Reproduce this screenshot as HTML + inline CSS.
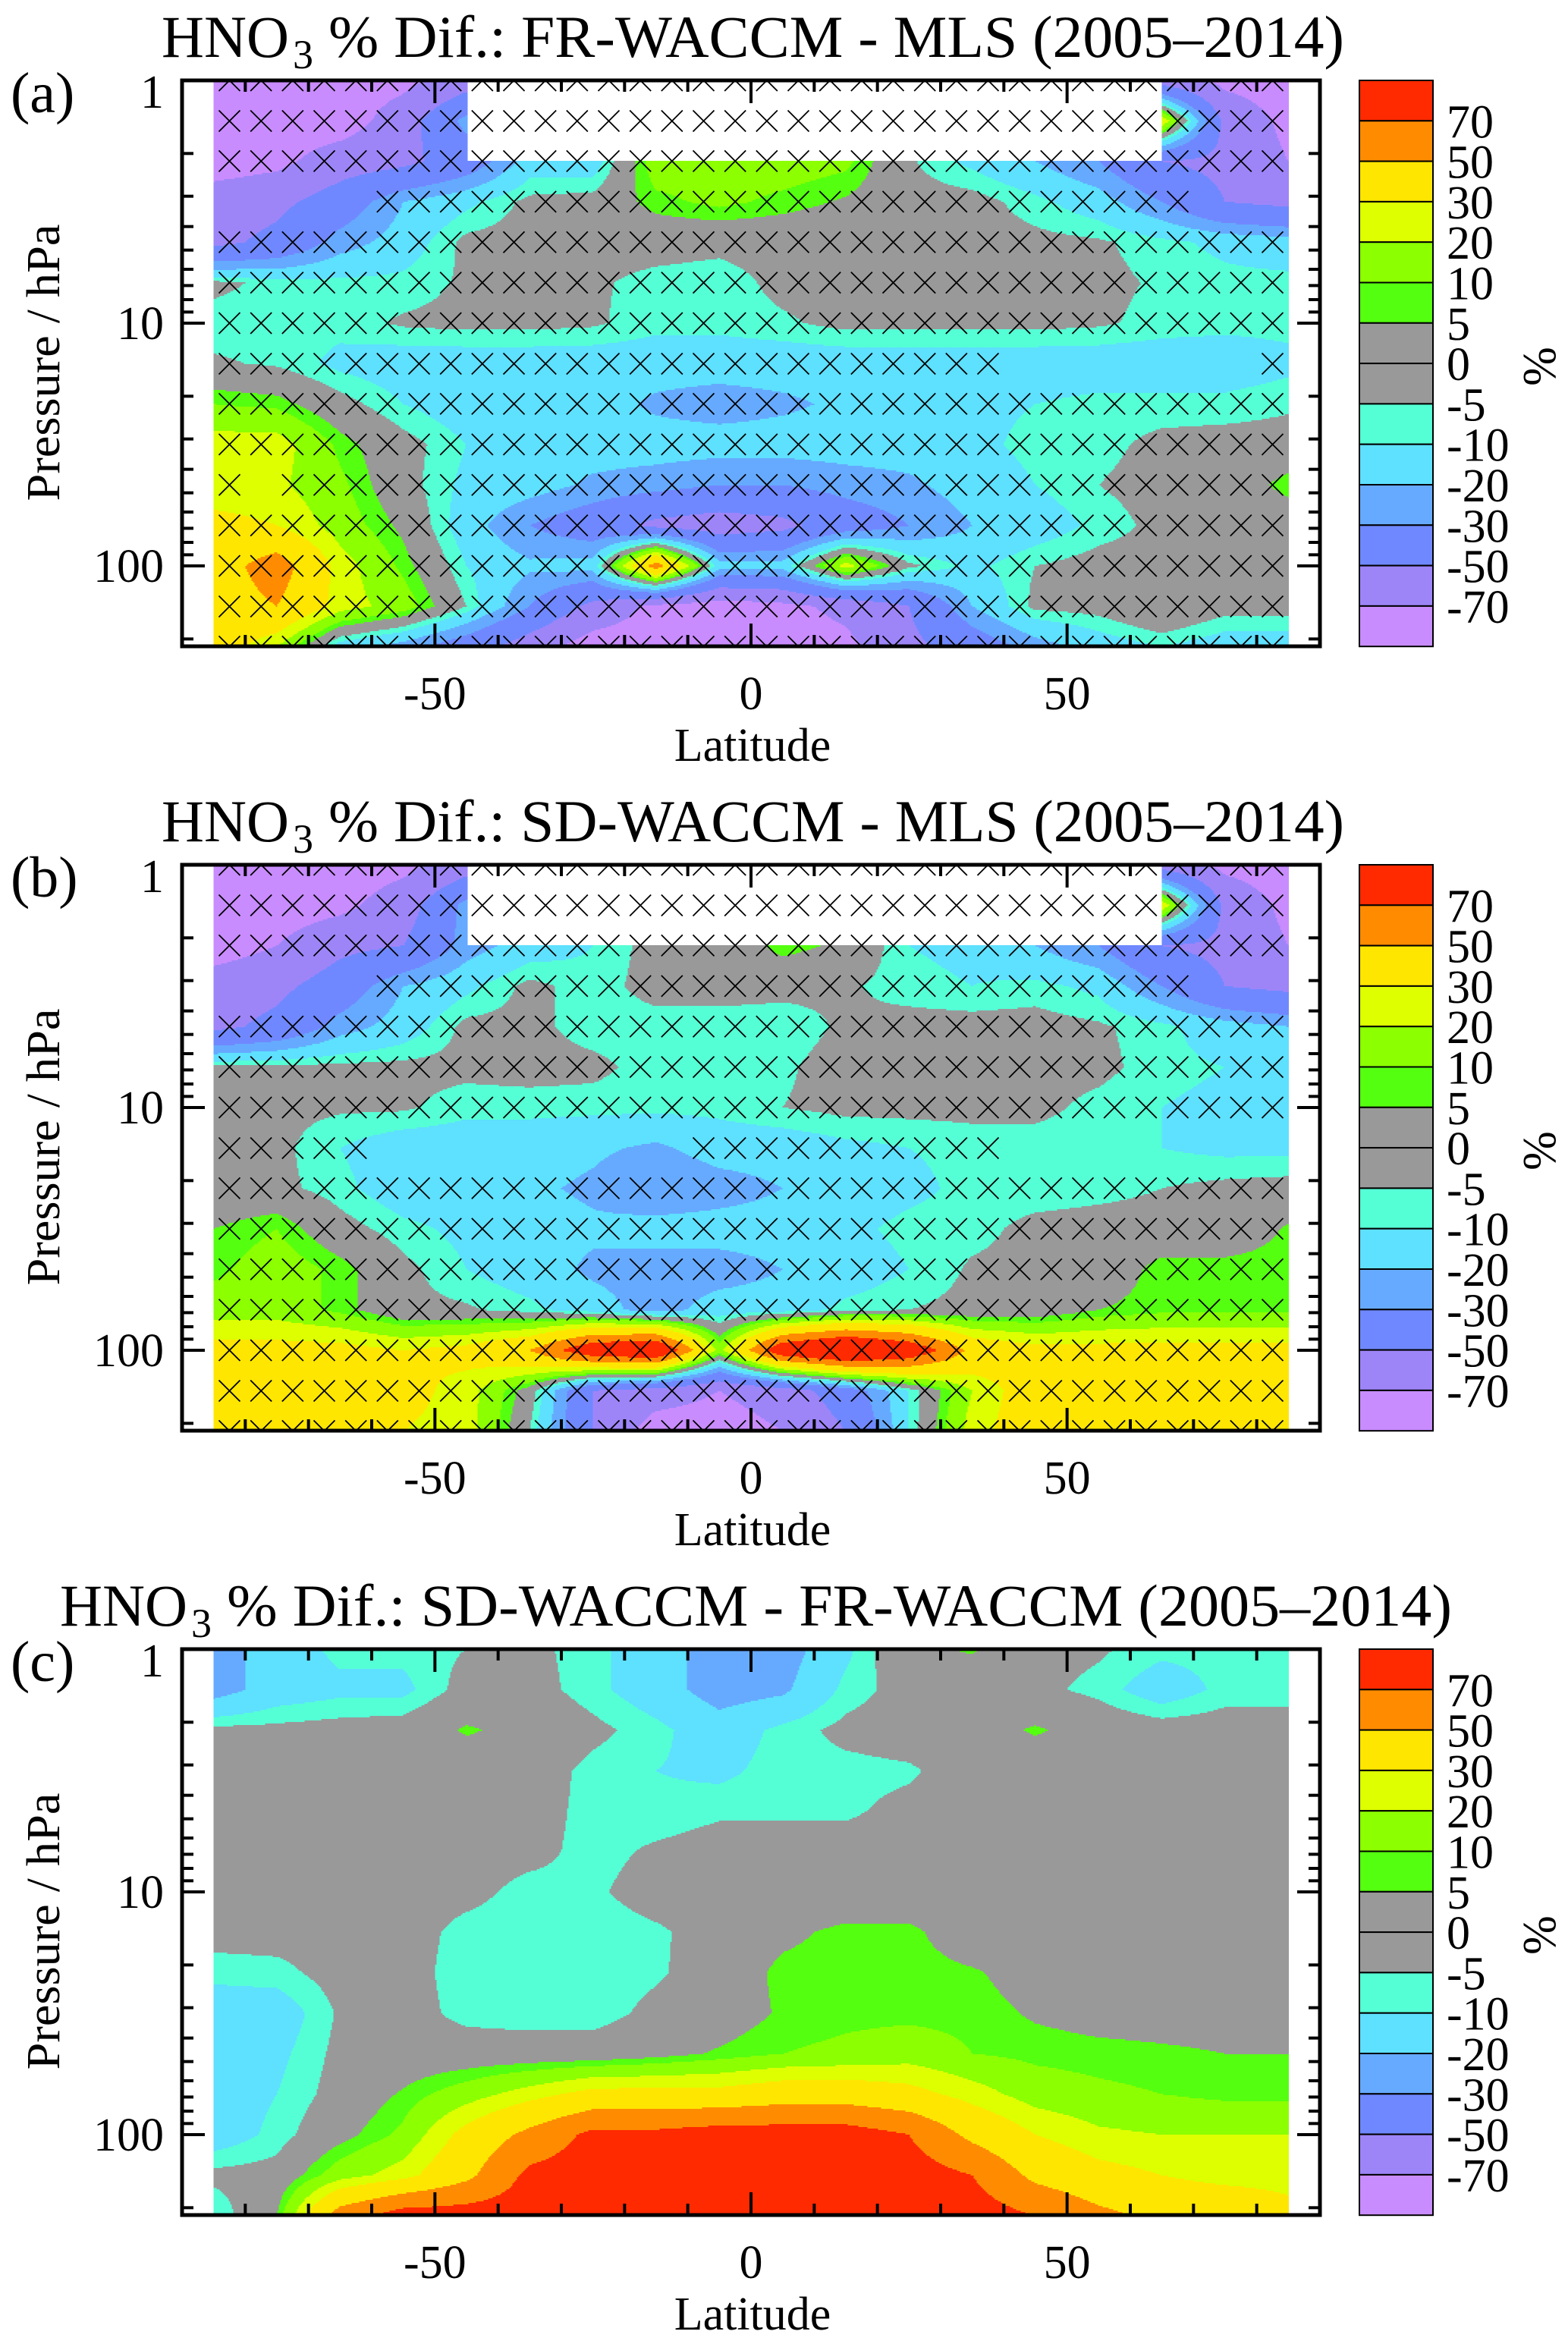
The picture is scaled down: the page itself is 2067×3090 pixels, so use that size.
<!DOCTYPE html>
<html><head><meta charset="utf-8"><title>HNO3 % differences</title>
<style>
html,body{margin:0;padding:0;background:#fff;}
svg{display:block;font-family:"Liberation Serif","DejaVu Serif",serif;}
</style></head>
<body>
<svg id="fig" xmlns="http://www.w3.org/2000/svg" width="2067" height="3090" viewBox="0 0 2067 3090">
<rect x="0" y="0" width="2067" height="3090" fill="#fff"/>
</svg>
<script>
// ---- data ----
const lats = [-85,-75,-65,-55,-45,-35,-25,-15,-5,5,15,25,35,45,55,65,75,85];
const pressures = [1,1.47,2.15,3.16,4.64,6.81,10,14.7,21.5,31.6,46.4,68.1,100,147,215];
const bandEdges = [-70,-50,-30,-20,-10,-5,0,5,10,20,30,50,70];
const bandColors = ["#c88cff","#9d85f8","#7088ff","#66aaff","#5ee0ff","#55ffd5","#999999","#999999","#55ff10","#8cff00","#ddff00","#ffe600","#ff8c00","#ff2a00"];
const cbLabels = ["70","50","30","20","10","5","0","-5","-10","-20","-30","-50","-70"];
const xTickVals = [-50,0,50];
const yTickVals = [1,10,100];
const N = null;
const valsA = [
[-80,-80,-80,-75,-60,N,N,N,N,N,N,N,N,N,N,-60,-75,-80],
[-80,-80,-80,-60,-25,N,N,N,N,N,N,N,N,N,N,30,-55,-75],
[-80,-75,-60,-55,-40,-15,-15,15,15,15,12,-4,-12,-20,-30,-50,-55,-70],
[-60,-55,-40,-20,-12,-3,-2,8,12,8,4,-2,-2,-8,-15,-30,-50,-55],
[-55,-45,-25,-15,-3,-2,-2,-2,-3,-2,-2,-1,-2,-3,-4,-8,-12,-15],
[-3,-7,-8,-8,-4,-3,-4,-7,-8,-3,-2,-1,-1,-2,-3,-6,-8,-8],
[-8,-8,-8,-4,-3,-3,-4,-8,-8,-6,-3,-3,-3,-3,-4,-7,-8,-8],
[-4,-6,-12,-15,-15,-15,-15,-15,-15,-15,-15,-15,-15,-15,-15,-15,-15,-12],
[10,8,-2,-10,-15,-15,-15,-22,-25,-22,-18,-15,-12,-10,-8,-8,-8,-6],
[25,25,8,-2,-10,-12,-15,-15,-15,-15,-15,-15,-12,-8,-7,-3,-2,-2],
[22,22,12,-2,-12,-15,-22,-25,-30,-30,-25,-22,-15,-10,-5,-2,-2,8],
[35,30,15,3,-15,-30,-40,-55,-60,-55,-40,-30,-20,-15,-8,-3,-2,-2],
[40,60,25,8,-10,-18,-15,60,-15,-15,25,-3,-12,-5,-2,-2,-2,-2],
[40,50,25,15,-5,-30,-55,-75,-80,-75,-65,-50,-20,-3,-2,5,-2,-2],
[40,20,-15,-25,-40,-60,-80,-80,-80,-80,-75,-55,-40,-25,-15,-10,-15,-15]
];
const valsB = [
[-80,-80,-80,-75,-60,N,N,N,N,N,N,N,N,N,N,-60,-75,-80],
[-80,-80,-75,-60,-25,N,N,N,N,N,N,N,N,N,N,30,-55,-75],
[-80,-70,-55,-50,-25,-15,-10,-2,-3,8,3,-10,-12,-20,-30,-50,-55,-70],
[-60,-55,-40,-20,-12,-3,-8,-2,-2,-3,-4,-8,-10,-8,-12,-30,-50,-55],
[-55,-45,-25,-15,-3,-3,-8,-8,-8,-8,-4,-2,-2,-2,-4,-8,-15,-20],
[-3,-3,-3,-3,-3,-2,-3,-8,-8,-6,-2,-1,-1,-2,-3,-8,-10,-12],
[-3,-3,-4,-4,-8,-8,-8,-8,-8,-5,-3,-3,-3,-3,-7,-10,-12,-12],
[-3,-3,-10,-15,-15,-15,-18,-22,-15,-15,-12,-10,-8,-8,-8,-10,-12,-12],
[-3,-3,-8,-15,-15,-18,-22,-30,-25,-20,-15,-12,-8,-8,-7,-5,-3,-2],
[5,10,-2,-8,-12,-15,-18,-15,-15,-15,-12,-8,-7,-3,-2,-2,-2,6],
[8,15,8,-3,-10,-15,-22,-25,-25,-20,-15,-10,-4,-3,-2,8,8,8],
[15,15,8,-3,-4,-8,-15,-25,-15,-15,-8,-5,-3,-2,5,8,8,8],
[35,35,35,30,35,50,90,100,15,90,110,90,45,35,35,35,35,35],
[40,40,35,35,25,0,-50,-60,-70,-60,-40,-10,20,40,40,40,40,40],
[40,40,35,30,25,-5,-50,-80,-80,-70,-50,-10,25,40,40,40,40,40]
];
const valsC = [
[-25,-15,-8,-8,-5,-3,-8,-15,-25,-25,-12,3,6,-2,-4,-8,-8,-8],
[-25,-15,-12,-12,-2,-2,-8,-15,-25,-22,-8,-2,-2,-3,-7,-15,-8,-8],
[-3,-3,-2,-1,6,2,-3,-8,-15,-8,-3,-1,1,6,1,-1,-1,-1],
[-1,-1,-1,-1,-1,-1,-7,-10,-12,-7,-7,-6,-1,-1,-1,-1,-1,-1],
[-1,-1,-1,-1,-1,-2,-7,-8,-6,-6,-6,-3,-1,-1,-1,-1,-1,-1],
[-2,-2,-2,-2,-2,-3,-7,-4,-2,-2,-2,-2,-2,-2,-2,-2,-2,-2],
[-2,-2,-2,-2,-3,-7,-6,-2,-2,-2,-2,-2,-2,-2,-2,-2,-2,-2],
[-2,-2,-2,-2,-7,-8,-8,-6,-2,3,7,7,-1,-1,-1,-1,-1,-1],
[-8,-7,-2,-2,-8,-8,-8,-6,-1,7,8,8,6,1,1,1,1,1],
[-15,-15,-4,-2,-7,-8,-8,-3,0,6,8,8,8,4,2,2,2,2],
[-15,-12,-3,-1,-1,-1,-1,2,6,10,12,15,10,8,7,6,5,5],
[-15,-10,-2,6,15,25,35,35,35,40,40,35,25,15,12,10,8,8],
[-15,-8,2,12,35,55,75,75,80,80,80,70,45,30,22,20,20,20],
[-3,-2,15,25,45,75,80,80,80,80,80,80,70,45,35,30,25,25],
[-10,5,60,80,80,80,80,80,80,80,80,80,80,70,55,45,45,35]
];
const maskA = [
"XXXXXXXXXXXXXXXXXXXXXXXXXXXXXXXXXX",
"XXXXXXXXXXXXXXXXXXXXXXXXXXXXXXXXXX",
"XXXXXXXXXXXXXXXXXXXXXXXXXXXXXXXXXX",
".....XXXXXXXXXXXXXXXXXXXXXXXXXX...",
"XXXXXXXXXXXXXXXXXXXXXXXXXXXXXXXXXX",
"XXXXXXXXXXXXXXXXXXXXXXXXXXXXXXXXXX",
"XXXXXXXXXXXXXXXXXXXXXXXXXXXXXXXXXX",
"XXXXXXXXXXXXXXXXXXXXXXXXX........X",
"XXXXXXXXXXXXXXXXXXXXXXXXXXXXXXXXXX",
"XXXXXXXXXXXXXXXXXXXXXXXXXXXXXXXXXX",
"X.XXXXXXXXXXXXXXXXXXXXXXXXXXXXXXXX",
"XXXXXXXXXXXXXXXXXXXXXXXXXXXXXXXXXX",
"XXXXXXXXXXXXXXXXXXXXXXXXXXXXXXXXXX",
"XXXXXXXXXXXXXXXXXXXXXXXXXXXXXXXXXX",
"XXXXXXXXXXXXXXXXXXXXXXXXXXXXXXXXXX"
];
const maskB = [
"XXXXXXXXXXXXXXXXXXXXXXXXXXXXXXXXXX",
"XXXXXXXXXXXXXXXXXXXXXXXXXXXXXXXXXX",
"XXXXXXXXXXXXXXXXXXXXXXXXXXXXXXXXXX",
".....XXXXXXXXXXXXXXXXXXXXXXXXXX...",
"XXXXXXXXXXXXXXXXXXXXXXXXXXXXXXXXXX",
"XXXXXXXXXXXXXXXXXXXXXXXXXXXXXXXXXX",
"XXXXXXXXXXXXXXXXXXXXXXXXXXXXXXXXXX",
"XXXXX..........XXXXXXXXXX.........",
"XXXXXXXXXXXXXXXXXXXXXXXXXXXXXXXXXX",
"XXXXXXXXXXXXXXXXXXXXXXXXXXXXXXXXXX",
"XXXXXXXXXXXXXXXXXXXXXXXXXXXXXXXXXX",
"XXXXXXXXXXXXXXXXXXXXXXXXXXXXXXXXXX",
"XXXXXXXXXXXXXXXXXXXXXXXXXXXXXXXXXX",
"XXXXXXXXXXXXXXXXXXXXXXXXXXXXXXXXXX",
"XXXXXXXXXXXXXXXXXXXXXXXXXXXXXXXXXX"
];
const maskC = [];
const titleRest = ["% Dif.: FR-WACCM - MLS (2005\u20132014)", "% Dif.: SD-WACCM - MLS (2005\u20132014)", "% Dif.: SD-WACCM - FR-WACCM (2005\u20132014)"];
const panelLetters = ["(a)","(b)","(c)"];

// ---- layout ----
const NS = "http://www.w3.org/2000/svg";
const svg = document.getElementById("fig");
const FX0 = 240, FX1 = 1740, FY0 = 106, FY1 = 852, DEC = 320;
function xOf(lat){ return FX0 + (lat + 90) * (FX1 - FX0) / 180; }
function yOf(p, off){ return off + FY0 + Math.log10(p) * DEC; }
function latOf(x){ return (x - FX0) * 180 / (FX1 - FX0) - 90; }
function mk(tag, attrs, parent){ const e = document.createElementNS(NS, tag); for (const k in attrs) e.setAttribute(k, attrs[k]); (parent||svg).appendChild(e); return e; }
function bandOf(v){ let i = 0; while (i < bandEdges.length && v >= bandEdges[i]) i++; return i; }
function sample(vals, lat, r){
  let fc = (lat - lats[0]) / 10; fc = Math.max(0, Math.min(lats.length - 1, fc));
  r = Math.max(0, Math.min(pressures.length - 1, r));
  const c0 = Math.min(lats.length - 2, Math.floor(fc)), r0 = Math.min(pressures.length - 2, Math.floor(r));
  const tx = fc - c0, ty = r - r0;
  const a = vals[r0][c0], b = vals[r0][c0+1], c = vals[r0+1][c0], d = vals[r0+1][c0+1];
  if (a === null || b === null || c === null || d === null) return null;
  return (a*(1-tx)+b*tx)*(1-ty) + (c*(1-tx)+d*tx)*ty;
}

function drawPanel(k, vals, mask, off){
  const g = mk("g", {});
  
  
  const cid = "clip" + k;
  const cp = mk("clipPath", {id: cid}, g);
  mk("rect", {x: FX0, y: off + FY0, width: FX1 - FX0, height: FY1 - FY0}, cp);
  const field = mk("g", {"clip-path": "url(#" + cid + ")", "shape-rendering": "crispEdges"}, g);
  
  
  const xa = xOf(lats[0]), xb = xOf(lats[lats.length - 1]), step = 2;
  const ncol = Math.ceil((xb - xa) / step);
  function emit(x0, x1, y, band){
    if (band < 0) return;
    const cell = mk("rect", {x: x0.toFixed(1), y: y, width: (x1 - x0 + 0.6).toFixed(1), height: step + 0.6, fill: bandColors[band]}, field);
    
    
  }
  for (let y = off + FY0; y < off + FY1; y += step) {
    const r = ((y + step/2 - off - FY0) / DEC) * 6;
    let runStart = xa, runBand = -2;
    for (let i = 0; i < ncol; i++) {
      const x = xa + i * step;
      const v = sample(vals, latOf(Math.min(x + step/2, xb)), r);
      const bnd = v === null ? -1 : bandOf(v);
      if (bnd !== runBand) {
        emit(runStart, x, y, runBand);
        runStart = x; runBand = bnd;
      }
    }
    emit(runStart, xb, y, runBand);
  }
  // hatch marks
  if (mask.length) {
    const hg = mk("g", {"clip-path": "url(#" + cid + ")", stroke: "#000", "stroke-width": 1.8}, g);
    
    
    for (let r = 0; r < mask.length; r++) {
      for (let j = 0; j < mask[r].length; j++) {
        if (mask[r][j] !== "X") continue;
        const cx = xOf(-82.5 + 5*j), cy = yOf(pressures[r], off), h = 14;
        const m = mk("path", {d: `M${cx-h},${cy-h}L${cx+h},${cy+h}M${cx-h},${cy+h}L${cx+h},${cy-h}`, fill: "none"}, hg);
        
        
      }
    }
  }
  // frame
  const fr = mk("rect", {x: FX0, y: off + FY0, width: FX1 - FX0, height: FY1 - FY0, fill: "none", stroke: "#000", "stroke-width": 5}, g);
  
  
  // ticks
  const tg = mk("g", {stroke: "#000", "stroke-width": 4}, g);
  
  
  for (let lat = -80; lat <= 80; lat += 10) {
    const x = xOf(lat), L = (lat % 50 === 0) ? 30 : 15;
    mk("line", {x1: x, x2: x, y1: off + FY1, y2: off + FY1 - L}, tg);
    mk("line", {x1: x, x2: x, y1: off + FY0, y2: off + FY0 + L}, tg);
  }
  for (let dec = 1; dec <= 100; dec *= 10) {
    for (let m = 1; m <= 9; m++) {
      const p = dec * m; if (p > 215) break;
      if (p === 1) continue;
      const y = yOf(p, off), L = m === 1 ? 30 : 15;
      mk("line", {x1: FX0, x2: FX0 + L, y1: y, y2: y}, tg);
      mk("line", {x1: FX1, x2: FX1 - L, y1: y, y2: y}, tg);
    }
  }
  // tick labels
  xTickVals.forEach(v => {
    const t = mk("text", {x: xOf(v), y: off + 935, "font-size": 62, "text-anchor": "middle"}, g);
    t.textContent = String(v);
    
    
  });
  yTickVals.forEach(v => {
    const yy = v === 1 ? off + 142 : yOf(v, off) + 21;
    const t = mk("text", {x: 216, y: yy, "font-size": 62, "text-anchor": "end"}, g);
    t.textContent = String(v);
    
    
  });
  const xt = mk("text", {x: 992, y: off + 1003, "font-size": 62, "text-anchor": "middle"}, g);
  xt.textContent = "Latitude";
  
  
  const yt = mk("text", {x: 0, y: 0, "font-size": 62, "text-anchor": "middle", textLength: 365, lengthAdjust: "spacingAndGlyphs", transform: `translate(78,${off + 478}) rotate(-90)`}, g);
  yt.textContent = "Pressure / hPa";
  
  
  // title
  const tx0 = k === 2 ? 79 : 213, tx1 = k === 2 ? 1914 : 1772;
  const t1 = mk("text", {x: tx0, y: off + 75, "font-size": 78, textLength: 168, lengthAdjust: "spacingAndGlyphs"}, g);
  t1.textContent = "HNO";
  
  
  const t2 = mk("text", {x: tx0 + 173, y: off + 90, "font-size": 54}, g);
  t2.textContent = "3";
  
  
  const t3 = mk("text", {x: tx0 + 220, y: off + 75, "font-size": 78, textLength: tx1 - tx0 - 220, lengthAdjust: "spacingAndGlyphs"}, g);
  t3.textContent = titleRest[k];
  
  
  const pl = mk("text", {x: 14, y: off + 148, "font-size": 76}, g);
  pl.textContent = panelLetters[k];
  
  
  // colorbar
  const cb = mk("g", {}, g);
  
  
  const CBX = 1792, CBW = 97, CBY = off + 106, BH = 53.3;
  for (let i = 0; i < bandColors.length; i++) {
    const band = bandColors.length - 1 - i;
    const b = mk("rect", {x: CBX, y: CBY + i*BH, width: CBW, height: BH, fill: bandColors[band], stroke: "#000", "stroke-width": 2}, cb);
    
    
  }
  cbLabels.forEach((s, i) => {
    const t = mk("text", {x: 1907, y: CBY + (i+1)*BH + 22, "font-size": 62}, cb);
    t.textContent = s;
    
    
  });
  const pc = mk("text", {x: 0, y: 0, "font-size": 62, "text-anchor": "middle", transform: `translate(2050,${off + 483}) rotate(-90)`}, cb);
  pc.textContent = "%";
  
  
}
drawPanel(0, valsA, maskA, 0);
drawPanel(1, valsB, maskB, 1034);
drawPanel(2, valsC, maskC, 2068);
</script>
</body></html>
